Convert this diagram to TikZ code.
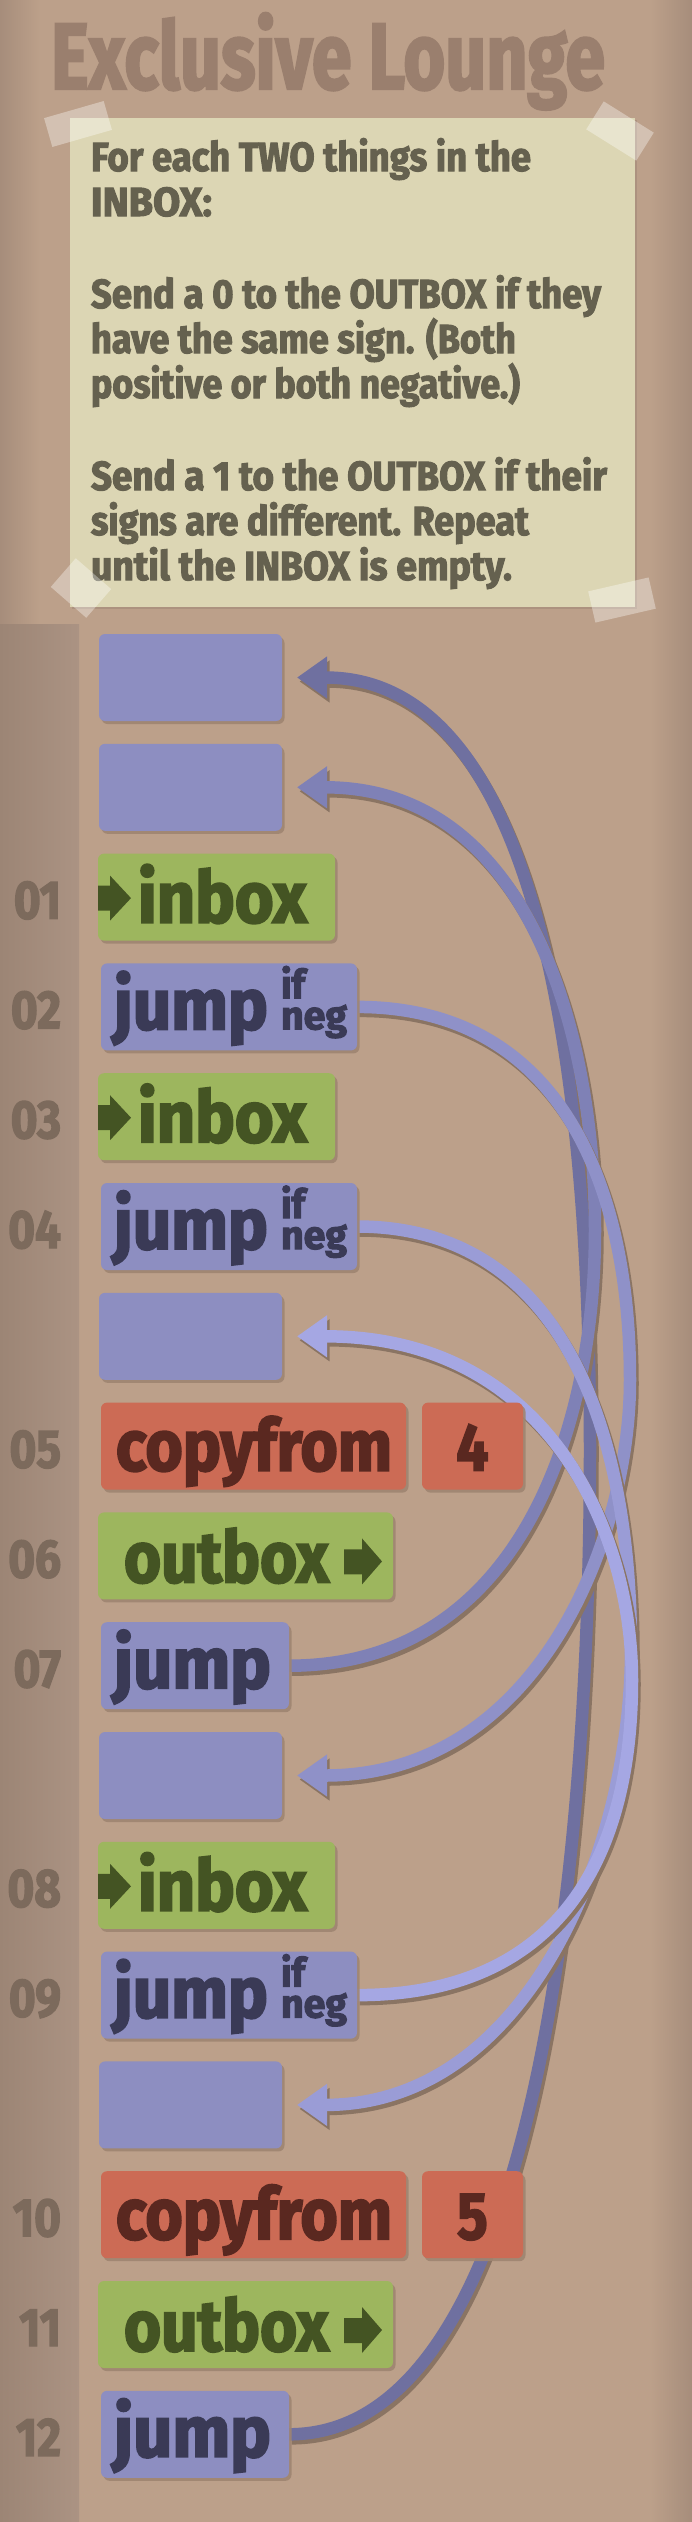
\documentclass[tikz,border=0pt]{standalone}
\usepackage{fontspec}
\usetikzlibrary{arrows.meta,calc,shadows}
\newfontfamily\hrm{Fira Sans}[FakeStretch=0.85, BoldFeatures={FakeBold=2.5}]
\definecolor{bg}{HTML}{BCA08A}
\definecolor{bgdark}{HTML}{A68D7B}
\definecolor{band}{HTML}{AB9383}
\definecolor{bandedge}{HTML}{9C8575}
\definecolor{titlec}{HTML}{9A7F6E}
\definecolor{notec}{HTML}{DCD6B4}
\definecolor{notetext}{HTML}{65614F}
\definecolor{numc}{HTML}{7C6A5C}
\definecolor{cmdblue}{HTML}{8D8EC1}
\definecolor{txtblue}{HTML}{3A3A56}
\definecolor{cmdgreen}{HTML}{9DB65E}
\definecolor{txtgreen}{HTML}{445423}
\definecolor{cmdred}{HTML}{CC6B55}
\definecolor{txtred}{HTML}{5A2820}
\definecolor{boxshadow}{HTML}{9F8571}
\definecolor{lineshadow}{HTML}{8A7463}
\definecolor{arrA}{HTML}{6F70A0}
\definecolor{arrB}{HTML}{7F81B6}
\definecolor{arrC}{HTML}{8F91C8}
\definecolor{arrD}{HTML}{9A9CD6}
\definecolor{arrE}{HTML}{A5A7E3}
\newcommand\fitw[2]{\resizebox{#1}{\height}{#2}}
\pgfdeclarelayer{backdrop}
\pgfdeclarelayer{jumps}
\pgfsetlayers{backdrop,jumps,main}
\tikzset{
  base/.style={inner sep=0pt, outer sep=0pt},
  cmdbox/.style={base, rounded corners=6pt, minimum height=87pt, anchor=north west,
     drop shadow={shadow xshift=2.5pt, shadow yshift=-3pt, fill=boxshadow, opacity=0.9}},
  bluecmd/.style={cmdbox, fill=cmdblue},
  greencmd/.style={cmdbox, fill=cmdgreen},
  redcmd/.style={cmdbox, fill=cmdred},
  bigword/.style={base, anchor=base west, font=\hrm\bfseries\fontsize{72pt}{72pt}\selectfont},
  smallword/.style={base, anchor=base west, text=txtblue, font=\hrm\bfseries\fontsize{40pt}{40pt}\selectfont},
  numtxt/.style={base, anchor=base east, text=numc, font=\hrm\bfseries\fontsize{54pt}{54pt}\selectfont},
  notetxt/.style={base, anchor=base west, text=notetext, font=\hrm\bfseries\fontsize{40.6pt}{40.6pt}\selectfont},
  tape/.style={base, fill=white, fill opacity=0.35},
  jumpline/.style={line width=12.5pt, -{Triangle[length=30pt,width=40pt]}},
}
\newcommand\jumparrow[2]{%
  \draw[jumpline, color=lineshadow, transform canvas={xshift=2.5pt,yshift=-4pt}] #2;
  \draw[jumpline, color=#1] #2;}
\newcommand\emptybox[2]{\node[bluecmd, minimum width=183pt] (#1) at (99,{634+109.8*#2}) {};}
\newcommand\linenum[3]{\node[numtxt] (#1) at (61,{634+109.8*#2+65}) {#3};}
\newcommand\inboxcmd[2]{%
  \node[greencmd, minimum width=237pt] (#1) at (98,{634+109.8*#2}) {};
  \fill[txtgreen] ($(#1.north west)+(0,32)$) -- ++(12,0) -- ++(0,-10) -- ++(21,22.5) -- ++(-21,22.5) -- ++(0,-10) -- ++(-12,0) -- cycle;
  \node[bigword, text=txtgreen] (#1w) at ($(#1.north west)+(40,69)$) {\fitw{169pt}{inbox}};}
\newcommand\outboxcmd[2]{%
  \node[greencmd, minimum width=295pt] (#1) at (98,{634+109.8*#2}) {};
  \node[bigword, text=txtgreen] (#1w) at ($(#1.north west)+(26,70)$) {\fitw{205pt}{outbox}};
  \fill[txtgreen] ($(#1.north west)+(246,37)$) -- ++(18,0) -- ++(0,-11) -- ++(20,23) -- ++(-20,23) -- ++(0,-10) -- ++(-18,0) -- cycle;}
\newcommand\jumpnegcmd[2]{%
  \node[bluecmd, minimum width=256pt] (#1) at (101,{634+109.8*#2}) {};
  \node[bigword, text=txtblue] (#1w) at ($(#1.north west)+(13,66)$) {\fitw{154pt}{jump}};
  \node[smallword] (#1g) at ($(#1.north west)+(180,66)$) {\rlap{\raisebox{31pt}{\fitw{24pt}{if}}}\fitw{66pt}{neg}};}
\newcommand\jumpcmd[2]{%
  \node[bluecmd, minimum width=188pt] (#1) at (101,{634+109.8*#2}) {};
  \node[bigword, text=txtblue] (#1w) at ($(#1.north west)+(13,66)$) {\fitw{157pt}{jump}};}
\newcommand\copycmd[3]{%
  \node[redcmd, minimum width=305pt] (#1) at (101,{634+109.8*#2}) {};
  \node[redcmd, minimum width=101pt] (#1a) at (422,{634+109.8*#2}) {};
  \node[bigword, text=txtred] (#1w) at ($(#1.north west)+(15,68)$) {\fitw{276pt}{copyfrom}};
  \node[base, anchor=base, text=txtred, font=\hrm\bfseries\fontsize{67pt}{67pt}\selectfont] (#1d) at ($(#1a.north)+(0,68)$) {#3};}
\begin{document}
\begin{tikzpicture}[x=1pt,y=-1pt]
\useasboundingbox (0,0) rectangle (692,2522);
\begin{pgfonlayer}{backdrop}
  \fill[bg] (0,0) rectangle (692,2522);
  \shade[left color=bgdark, right color=bg] (0,0) rectangle (40,2522);
  \shade[left color=bg, right color=bgdark] (650,0) rectangle (692,2522);
  \shade[left color=bandedge, right color=band] (0,624) rectangle (79,2522);
\end{pgfonlayer}
% title
\node[base, anchor=base west, text=titlec, font=\hrm\bfseries\fontsize{94pt}{94pt}\selectfont] (title) at (51,89) {\fitw{554pt}{Exclusive Lounge}};
% note
\node[base, anchor=north west, fill=notec, minimum width=565pt, minimum height=489pt,
  drop shadow={shadow xshift=2pt, shadow yshift=-2pt, fill=bgdark, opacity=0.7}] (note) at (70,118) {};
\node[notetxt] (nt1) at (91,171) {\fitw{440pt}{For each TWO things in the}};
\node[notetxt] (nt2) at (91,216) {\fitw{121pt}{INBOX:}};
\node[notetxt] (nt3) at (91,308) {\fitw{510pt}{Send a 0 to the OUTBOX if they}};
\node[notetxt] (nt4) at (91,353) {\fitw{425pt}{have the same sign. (Both}};
\node[notetxt] (nt5) at (91,398) {\fitw{429pt}{positive or both negative.)}};
\node[notetxt] (nt6) at (91,490) {\fitw{516pt}{Send a 1 to the OUTBOX if their}};
\node[notetxt] (nt7) at (91,535) {\fitw{438pt}{signs are different. Repeat}};
\node[notetxt] (nt8) at (91,580) {\fitw{421pt}{until the INBOX is empty.}};
\node[tape, minimum width=62pt, minimum height=30pt, rotate=16] (tp1) at (78,124) {};
\node[tape, minimum width=59pt, minimum height=33pt, rotate=-32] (tp2) at (620,131) {};
\node[tape, minimum width=47pt, minimum height=38pt, rotate=-41] (tp3) at (81,588) {};
\node[tape, minimum width=62pt, minimum height=32pt, rotate=13] (tp4) at (622,600) {};
% program
\emptybox{l0}{0}
\emptybox{l1}{1}
\linenum{n01}{2}{01}\inboxcmd{in01}{2}
\linenum{n02}{3}{02}\jumpnegcmd{jn02}{3}
\linenum{n03}{4}{03}\inboxcmd{in03}{4}
\linenum{n04}{5}{04}\jumpnegcmd{jn04}{5}
\emptybox{l6}{6}
\linenum{n05}{7}{05}\copycmd{cf05}{7}{4}
\linenum{n06}{8}{06}\outboxcmd{ob06}{8}
\linenum{n07}{9}{07}\jumpcmd{j07}{9}
\emptybox{l10}{10}
\linenum{n08}{11}{08}\inboxcmd{in08}{11}
\linenum{n09}{12}{09}\jumpnegcmd{jn09}{12}
\emptybox{l13}{13}
\linenum{n10}{14}{10}\copycmd{cf10}{14}{5}
\linenum{n11}{15}{11}\outboxcmd{ob11}{15}
\linenum{n12}{16}{12}\jumpcmd{j12}{16}
% jump curves
\coordinate (mA) at (590,1450);
\coordinate (mB) at (595,1230);
\coordinate (mC) at (630,1380);
\coordinate (mD) at (631,1650);
\coordinate (mE) at (632,1680);
\begin{pgfonlayer}{jumps}
  \jumparrow{arrA}{(j12.east) .. controls +(250,0) and +(0,400) .. (mA) .. controls +(0,-350) and +(250,0) .. ([xshift=15pt]l0.east)}
  \jumparrow{arrB}{(j07.east) .. controls +(230,0) and +(0,200) .. (mB) .. controls +(0,-200) and +(230,0) .. ([xshift=15pt]l1.east)}
  \jumparrow{arrC}{(jn02.east) .. controls +(200,0) and +(0,-200) .. (mC) .. controls +(0,160) and +(240,0) .. ([xshift=15pt]l10.east)}
  \jumparrow{arrD}{(jn04.east) .. controls +(200,0) and +(0,-230) .. (mD) .. controls +(0,200) and +(230,0) .. ([xshift=15pt]l13.east)}
  \jumparrow{arrE}{(jn09.east) .. controls +(200,0) and +(0,180) .. (mE) .. controls +(0,-150) and +(250,0) .. ([xshift=15pt]l6.east)}
\end{pgfonlayer}
\end{tikzpicture}
\end{document}
